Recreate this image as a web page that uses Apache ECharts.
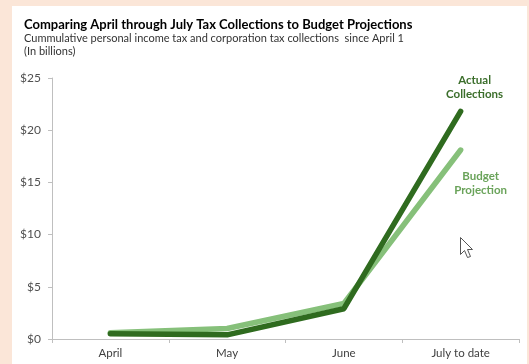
<!DOCTYPE html>
<html><head><meta charset="utf-8">
<script src="https://cdn.jsdelivr.net/npm/echarts@6/dist/echarts.min.js"></script>
<style>
html,body{margin:0;padding:0;background:#fbe6d8;width:529px;height:364px;overflow:hidden}
#c{position:absolute;left:12px;top:6px;width:515px;height:358px;background:#fff}
</style></head><body>
<div id="c"></div>
<script>
const categories = ['April', 'May', 'June', 'July to date'];
const budgetProjection = [0.6, 1.0, 3.4, 18.1];
const actualCollections = [0.5, 0.4, 2.9, 21.8];
const yTicks = [0, 5, 10, 15, 20, 25];

const FONT = 'Lato';
const chart = echarts.init(document.getElementById('c'));
chart.setOption({
  animation: false,
  textStyle: {fontFamily: FONT},
  title: {
    text: 'Comparing April through July Tax Collections to Budget Projections',
    subtext: 'Cummulative personal income tax and corporation tax collections  since April 1\n(In billions)',
    left: 7, top: 7, itemGap: 1,
    textStyle: {fontFamily: FONT, fontSize: 13, fontWeight: 'bold', color: '#000'},
    subtextStyle: {fontFamily: FONT, fontSize: 11, color: '#333', lineHeight: 13}
  },
  grid: {left: 40, right: 8, top: 72, bottom: 25, containLabel: false},
  xAxis: {
    type: 'category', data: categories, boundaryGap: true,
    axisLine: {lineStyle: {color: '#bfbfbf', width: 1}},
    axisTick: {show: true, length: 4, lineStyle: {color: '#bfbfbf'}},
    axisLabel: {color: '#404040', fontSize: 11.5, margin: 8, fontFamily: FONT}
  },
  yAxis: {
    type: 'value', min: yTicks[0], max: yTicks[yTicks.length - 1], interval: 5,
    axisLine: {show: true, lineStyle: {color: '#bfbfbf'}},
    axisTick: {show: true, length: 4, lineStyle: {color: '#bfbfbf'}},
    splitLine: {show: false},
    axisLabel: {color: '#505050', fontSize: 12, margin: 11, fontFamily: FONT, formatter: v => '$' + v}
  },
  series: [
    {
      name: 'Budget\nProjection', type: 'line', data: budgetProjection,
      symbol: 'none', lineStyle: {color: '#86c07a', width: 5.5, cap: 'round', join: 'round'},
      endLabel: {show: true, formatter: '{a}', color: '#6aa35a', fontWeight: 'bold', fontSize: 11.5,
                 align: 'center', verticalAlign: 'top', lineHeight: 14, offset: [12, 19], fontFamily: FONT}
    },
    {
      name: 'Actual\nCollections', type: 'line', data: actualCollections,
      symbol: 'none', lineStyle: {color: '#2f6b1f', width: 5.5, cap: 'round', join: 'round'},
      endLabel: {show: true, formatter: '{a}', color: '#3b6e2b', fontWeight: 'bold', fontSize: 11.5,
                 align: 'center', verticalAlign: 'bottom', lineHeight: 14, offset: [6, -10], fontFamily: FONT}
    }
  ],
  graphic: [{
    type: 'polygon', left: 448, top: 231,
    shape: {points: [[0,0],[0,17],[4,13],[7,20],[10,19],[7,12],[12,12]]},
    style: {fill: '#fff', stroke: '#555', lineWidth: 1}
  }]
});
</script></body></html>
